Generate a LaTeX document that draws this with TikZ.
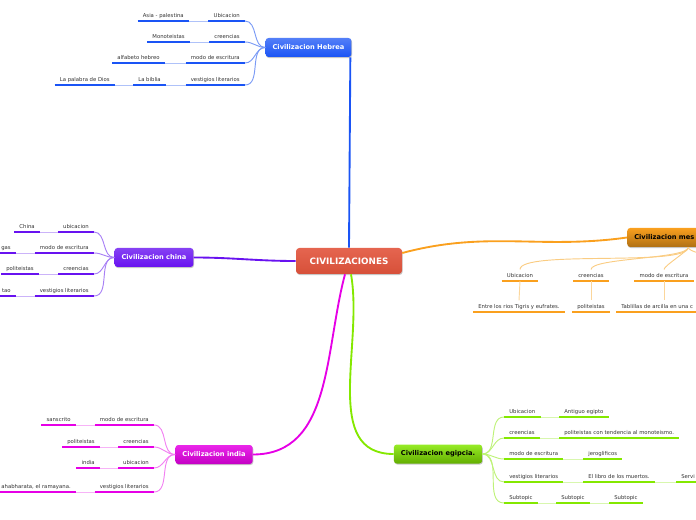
\documentclass[tikz,border=0pt]{standalone}
\usepackage{fontspec}
\setmainfont{DejaVu Sans}
\usetikzlibrary{shadows}
\definecolor{rootred}{RGB}{226,84,60}
\definecolor{hebblue}{RGB}{26,84,245}
\definecolor{hebthin}{RGB}{122,154,245}
\definecolor{chnpurple}{RGB}{104,18,240}
\definecolor{chnthin}{RGB}{168,128,245}
\definecolor{indmag}{RGB}{230,0,230}
\definecolor{indthin}{RGB}{242,128,242}
\definecolor{egygreen}{RGB}{132,232,0}
\definecolor{egythin}{RGB}{190,242,120}
\definecolor{mesorange}{RGB}{250,160,30}
\definecolor{mesthin}{RGB}{250,204,130}
\definecolor{labelgray}{RGB}{51,51,51}
\tikzset{
  rootnode/.style={rectangle,rounded corners=2.5pt,top color=rootred!90!white,bottom color=rootred!95!black,
    text=white,font=\fontsize{6.6}{8}\selectfont\bfseries,minimum width=79.5pt,minimum height=19.5pt,
    drop shadow={fill=black!22,opacity=1,shadow xshift=0.5pt,shadow yshift=-0.8pt}},
  civnode/.style 2 args={rectangle,rounded corners=2.2pt,top color=#1,bottom color=#2,
    font=\fontsize{5}{6}\selectfont\bfseries,inner xsep=5.25pt,inner ysep=1pt,minimum height=14.25pt,
    drop shadow={fill=black!22,opacity=1,shadow xshift=0.5pt,shadow yshift=-0.8pt}},
  topic/.style={font=\fontsize{4}{5}\selectfont,text=labelgray,inner xsep=3.75pt,inner ysep=2.6pt,text depth=0pt,
    append after command={(\tikzlastnode.south west) edge[draw=#1,line width=1.7pt] (\tikzlastnode.south east)}},
  hebtopic/.style={topic=hebblue},
  chntopic/.style={topic=chnpurple},
  indtopic/.style={topic=indmag},
  egytopic/.style={topic=egygreen},
  mestopic/.style={topic=mesorange},
  mainline/.style={draw=#1,line width=1.4pt},
  subline/.style={draw=#1,line width=0.7pt}
}

\begin{document}
\begin{tikzpicture}[x=0.75pt,y=-0.75pt]
  \useasboundingbox (0,0) rectangle (696,520);
  \clip (0,0) rectangle (696,520);
  \node[rootnode] (civ) at (349,261) {CIVILIZACIONES};
  \node[civnode={hebblue!75!white}{hebblue},text=white] (heb) at (308.5,47.5) {Civilizacion Hebrea};
  \node[civnode={chnpurple!80!white}{chnpurple},text=white] (chn) at (154,257.5) {Civilizacion china};
  \node[civnode={indmag!85!white}{indmag!85!black},text=white] (ind) at (214,454.5) {Civilizacion india};
  \node[civnode={egygreen!85!white}{egygreen!75!black},text=black] (egy) at (438,454) {Civilizacion egipcia.};
  \node[civnode={mesorange}{mesorange!70!black},text=black,anchor=west,text width=81pt,align=left]
    (mes) at (627,237.5) {Civilizacion mes};
  \draw[mainline=hebblue] (civ.north) -- ([xshift=-1pt]heb.south east);
  \draw[mainline=chnpurple] (civ.west) to[out=180,in=0] (chn.east);
  \draw[mainline=indmag] ([xshift=-3pt]civ.south) to[out=-105,in=0] (ind.east);
  \draw[mainline=egygreen] ([xshift=1.5pt]civ.south) to[out=-80,in=180] (egy.west);
  \draw[mainline=mesorange] ([yshift=6pt]civ.east) to[out=15,in=188] (mes.west);

  \node[hebtopic,anchor=south east] (hubic) at (245,21) {Ubicacion};
  \node[hebtopic,anchor=south east] (hcree) at (245,42) {creencias};
  \node[hebtopic,anchor=south east] (hmodo) at (245,63) {modo de escritura};
  \node[hebtopic,anchor=south east] (hvest) at (245,85) {vestigios literarios};
  \node[hebtopic,anchor=south east] (hasia) at (189,21) {Asia - palestina};
  \node[hebtopic,anchor=south east] (hmono) at (190,42) {Monoteistas};
  \node[hebtopic,anchor=south east] (halfa) at (165,63) {alfabeto hebreo};
  \node[hebtopic,anchor=south east] (hbibl) at (166,85) {La biblia};
  \node[hebtopic,anchor=south east] (hpala) at (115,85) {La palabra de Dios};
  \foreach \t in {hubic,hcree,hmodo,hvest}
    \draw[subline=hebthin] (heb.west) to[out=180,in=0] (\t.south east);
  \draw[subline=hebthin!60!white] (hubic.south west) -- (hasia.south east);
  \draw[subline=hebthin!60!white] (hcree.south west) -- (hmono.south east);
  \draw[subline=hebthin!60!white] (hmodo.south west) -- (halfa.south east);
  \draw[subline=hebthin!60!white] (hvest.south west) -- (hbibl.south east);
  \draw[subline=hebthin!60!white] (hbibl.south west) -- (hpala.south east);

  \node[chntopic,anchor=south east] (cubic) at (94,232) {ubicacion};
  \node[chntopic,anchor=south east] (cmodo) at (94,253) {modo de escritura};
  \node[chntopic,anchor=south east] (ccree) at (94,274) {creencias};
  \node[chntopic,anchor=south east] (cvest) at (94,296) {vestigios literarios};
  \node[chntopic,anchor=south east] (cchin) at (40,232) {China};
  \node[chntopic,anchor=south east] (cgas) at (16,253) {gas};
  \node[chntopic,anchor=south east] (cpoli) at (39,274) {politeistas};
  \node[chntopic,anchor=south east] (ctao) at (16,296) {tao};
  \foreach \t in {cubic,cmodo,ccree,cvest}
    \draw[subline=chnthin] (chn.west) to[out=180,in=0] (\t.south east);
  \draw[subline=chnthin!60!white] (cubic.south west) -- (cchin.south east);
  \draw[subline=chnthin!60!white] (cmodo.south west) -- (cgas.south east);
  \draw[subline=chnthin!60!white] (ccree.south west) -- (cpoli.south east);
  \draw[subline=chnthin!60!white] (cvest.south west) -- (ctao.south east);

  \node[indtopic,anchor=south east] (imodo) at (154,425) {modo de escritura};
  \node[indtopic,anchor=south east] (icree) at (154,447) {creencias};
  \node[indtopic,anchor=south east] (iubic) at (154,468) {ubicacion};
  \node[indtopic,anchor=south east] (ivest) at (154,492) {vestigios literarios};
  \node[indtopic,anchor=south east] (isans) at (76,425) {sanscrito};
  \node[indtopic,anchor=south east] (ipoli) at (100,447) {politeistas};
  \node[indtopic,anchor=south east] (iindi) at (100,468) {india};
  \node[indtopic,anchor=south east] (imaha) at (76,492) {ahabharata, el ramayana.};
  \foreach \t in {imodo,icree,iubic,ivest}
    \draw[subline=indthin] (ind.west) to[out=180,in=0] (\t.south east);
  \draw[subline=indthin!60!white] (imodo.south west) -- (isans.south east);
  \draw[subline=indthin!60!white] (icree.south west) -- (ipoli.south east);
  \draw[subline=indthin!60!white] (iubic.south west) -- (iindi.south east);
  \draw[subline=indthin!60!white] (ivest.south west) -- (imaha.south east);

  \node[egytopic,anchor=south west] (eubic) at (504,417) {Ubicacion};
  \node[egytopic,anchor=south west] (ecree) at (504,438) {creencias};
  \node[egytopic,anchor=south west] (emodo) at (504,459) {modo de escritura};
  \node[egytopic,anchor=south west] (evest) at (504,482) {vestigios literarios};
  \node[egytopic,anchor=south west] (esuba) at (504,503) {Subtopic};
  \node[egytopic,anchor=south west] (eanti) at (559,417) {Antiguo egipto};
  \node[egytopic,anchor=south west] (epoli) at (559,438) {politeistas con tendencia al monoteismo.};
  \node[egytopic,anchor=south west] (ejero) at (583,459) {jeroglificos};
  \node[egytopic,anchor=south west] (elibr) at (583,482) {El libro de los muertos.};
  \node[egytopic,anchor=south west] (eserv) at (676,482) {Servi};
  \node[egytopic,anchor=south west] (esubb) at (556,503) {Subtopic};
  \node[egytopic,anchor=south west] (esubc) at (609,503) {Subtopic};
  \foreach \t in {eubic,ecree,emodo,evest,esuba}
    \draw[subline=egythin] (egy.east) to[out=0,in=180] (\t.south west);
  \draw[subline=egythin!60!white] (eubic.south east) -- (eanti.south west);
  \draw[subline=egythin!60!white] (ecree.south east) -- (epoli.south west);
  \draw[subline=egythin!60!white] (emodo.south east) -- (ejero.south west);
  \draw[subline=egythin!60!white] (evest.south east) -- (elibr.south west);
  \draw[subline=egythin!60!white] (elibr.south east) -- (eserv.south west);
  \draw[subline=egythin!60!white] (esuba.south east) -- (esubb.south west);
  \draw[subline=egythin!60!white] (esubb.south east) -- (esubc.south west);

  \node[mestopic,anchor=south] (mubic) at (520,281) {Ubicacion};
  \node[mestopic,anchor=south] (mcree) at (591,281) {creencias};
  \node[mestopic,anchor=south] (mmodo) at (664,281) {modo de escritura};
  \node[mestopic,anchor=south] (mentr) at (519,312) {Entre los rios Tigris y eufrates.};
  \node[mestopic,anchor=south] (mpoli) at (591,312) {politeistas};
  \node[mestopic,anchor=south west] (mtabl) at (616,312) {Tablillas de arcilla en una c};
  \coordinate (mesoff) at (760,270);
  \foreach \t in {mubic,mcree,mmodo}
    \draw[subline=mesthin] (mes.south) to[out=-90,in=90,looseness=0.3] (\t.north);
  \draw[subline=mesthin] (mes.south) to[out=-90,in=90,looseness=0.3] (mesoff);
  \draw[subline=mesthin!80!white] (mubic.south) -- (mentr.north);
  \draw[subline=mesthin!80!white] (mcree.south) -- (mpoli.north);
  \draw[subline=mesthin!80!white] (mmodo.south) -- (mmodo.south |- mtabl.north);
\end{tikzpicture}
\end{document}
